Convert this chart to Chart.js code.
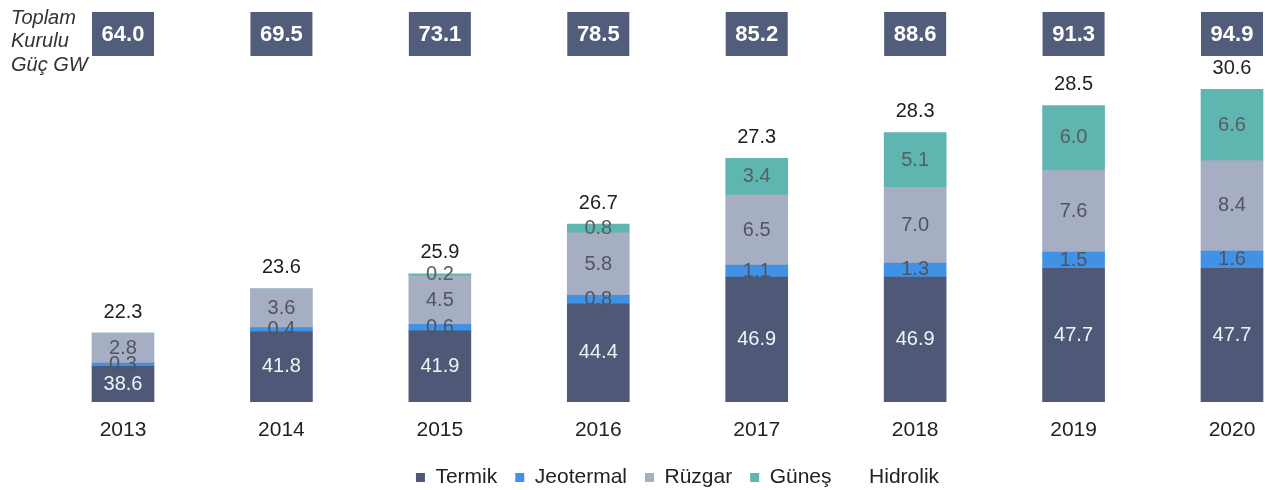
<!DOCTYPE html>
<html>
<head>
<meta charset="utf-8">
<title>Toplam Kurulu Güç</title>
<script src="https://cdn.jsdelivr.net/npm/chart.js@4.4.1/dist/chart.umd.min.js"></script>
<style>
  html, body { margin: 0; padding: 0; background: #fff; }
</style>
</head>
<body>
<canvas id="myChart" width="1265" height="490"></canvas>
<script>
// veriler (GW)
const years = ["2013", "2014", "2015", "2016", "2017", "2018", "2019", "2020"];
const termik = [38.6, 41.8, 41.9, 44.4, 46.9, 46.9, 47.7, 47.7];
const jeotermal = [0.3, 0.4, 0.6, 0.8, 1.1, 1.3, 1.5, 1.6];
const ruzgar = [2.8, 3.6, 4.5, 5.8, 6.5, 7.0, 7.6, 8.4];
const gunes = [0, 0, 0.2, 0.8, 3.4, 5.1, 6.0, 6.6];
const hidrolik = [22.3, 23.6, 25.9, 26.7, 27.3, 28.3, 28.5, 30.6];
const toplam = [64.0, 69.5, 73.1, 78.5, 85.2, 88.6, 91.3, 94.9];
const baslik = ["Toplam", "Kurulu", "Güç GW"];

const FONT = "'Liberation Sans', Arial, sans-serif";

// etiketler ve toplam kutuları
const etiketPlugin = {
  id: "etiketler",
  afterDatasetsDraw(chart) {
    const ctx = chart.ctx;
    const area = chart.chartArea;
    ctx.save();
    ctx.textAlign = "center";
    ctx.textBaseline = "middle";

    chart.data.datasets.forEach(function (ds, i) {
      const meta = chart.getDatasetMeta(i);
      meta.data.forEach(function (bar, j) {
        const v = ds.data[j];
        if (!v) return;
        if (i == 4) {
          // hidrolik: görünen sütunun üstüne
          ctx.fillStyle = "#1e1e1e";
          ctx.font = "20px " + FONT;
          ctx.fillText(v.toFixed(1), bar.x, bar.base - 21);
          return;
        }
        const top = Math.max(bar.y, area.top);
        const bottom = Math.min(bar.base, area.bottom);
        ctx.fillStyle = ds.labelColor;
        ctx.font = "20px " + FONT;
        ctx.fillText(v.toFixed(1), bar.x, (top + bottom) / 2);
      });
    });

    // toplam kurulu güç kutuları
    const meta0 = chart.getDatasetMeta(0);
    meta0.data.forEach(function (bar, j) {
      ctx.fillStyle = "#525c7b";
      ctx.fillRect(bar.x - 31, 12, 62, 44);
      ctx.fillStyle = "#ffffff";
      ctx.font = "bold 22px " + FONT;
      ctx.fillText(toplam[j].toFixed(1), bar.x, 35);
    });

    // sol başlık
    ctx.textAlign = "left";
    ctx.fillStyle = "#333333";
    ctx.font = "italic 20px " + FONT;
    baslik.forEach(function (t, k) {
      ctx.fillText(t, 11, 18 + k * 23.5);
    });
    ctx.restore();
  }
};

const ctx = document.getElementById("myChart").getContext("2d");
const chart = new Chart(ctx, {
  type: "bar",
  data: {
    labels: years,
    datasets: [
      { label: "Termik", data: termik, backgroundColor: "#4f5877", labelColor: "#f2f3f7" },
      { label: "Jeotermal", data: jeotermal, backgroundColor: "#4192e4", labelColor: "#4f5560" },
      { label: "Rüzgar", data: ruzgar, backgroundColor: "#a5aec3", labelColor: "#50555e" },
      { label: "Güneş", data: gunes, backgroundColor: "#5fb5b0", labelColor: "#56605f" },
      { label: "Hidrolik", data: hidrolik, backgroundColor: "#ffffff" }
    ]
  },
  options: {
    responsive: false,
    animation: false,
    layout: { padding: { left: 123, right: 33, top: 0, bottom: -8 } },
    datasets: {
      bar: {
        barThickness: 62,
        borderWidth: 0,
        clip: { left: 40, right: 40, top: 0, bottom: 0 }
      }
    },
    scales: {
      x: {
        stacked: true,
        offset: false,
        grid: { display: false, drawTicks: false },
        border: { display: false },
        ticks: { color: "#222222", font: { family: FONT, size: 21 }, padding: 16, maxRotation: 0, autoSkip: false },
        afterFit: function (scale) {
          scale.height = 47;
          scale.paddingRight = 0;
        }
      },
      y: {
        stacked: true,
        display: false,
        min: 35.3,
        max: 72.6
      }
    },
    plugins: {
      legend: {
        position: "bottom",
        fullSize: false,
        labels: {
          boxWidth: 9,
          boxHeight: 9,
          padding: 18,
          color: "#222222",
          font: { family: FONT, size: 21 }
        }
      },
      tooltip: { enabled: false }
    }
  },
  plugins: [etiketPlugin]
});
</script>
</body>
</html>
